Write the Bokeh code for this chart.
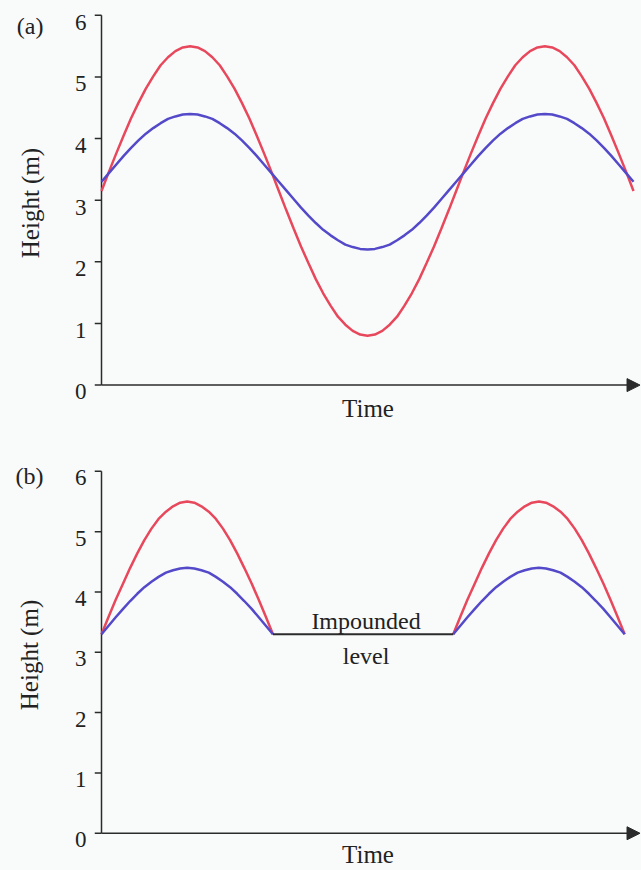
from bokeh.plotting import figure
from bokeh.layouts import column
from bokeh.models import FixedTicker, Arrow, NormalHead, LinearAxis, Range1d
from bokeh.core.properties import value
from bokeh.embed import file_html
from bokeh.resources import INLINE

# Tidal height (m) over time (h), sampled every quarter hour
time_a = [0.0, 0.25, 0.5, 0.75, 1.0, 1.25, 1.5, 1.75, 2.0, 2.25, 2.5, 2.75,
          3.0, 3.25, 3.5, 3.75, 4.0, 4.25, 4.5, 4.75, 5.0, 5.25, 5.5, 5.75,
          6.0, 6.25, 6.5, 6.75, 7.0, 7.25, 7.5, 7.75, 8.0, 8.25, 8.5, 8.75,
          9.0, 9.25, 9.5, 9.75, 10.0, 10.25, 10.5, 10.75, 11.0, 11.25, 11.5, 11.75,
          12.0, 12.25, 12.5, 12.75, 13.0, 13.25, 13.5, 13.75, 14.0, 14.25, 14.5, 14.75,
          15.0, 15.25, 15.5, 15.75, 16.0, 16.25, 16.5, 16.75, 17.0, 17.25, 17.5, 17.75,
          18.0]
outer_a = [3.15, 3.46, 3.76, 4.05, 4.33, 4.58, 4.81, 5.01, 5.19, 5.32, 5.42, 5.48,
           5.50, 5.48, 5.42, 5.32, 5.19, 5.01, 4.81, 4.58, 4.33, 4.05, 3.76, 3.46,
           3.15, 2.84, 2.54, 2.25, 1.98, 1.72, 1.49, 1.29, 1.11, 0.98, 0.88, 0.82,
           0.80, 0.82, 0.88, 0.98, 1.11, 1.29, 1.49, 1.72, 1.98, 2.25, 2.54, 2.84,
           3.15, 3.46, 3.76, 4.05, 4.33, 4.58, 4.81, 5.01, 5.19, 5.32, 5.42, 5.48,
           5.50, 5.48, 5.42, 5.32, 5.19, 5.01, 4.81, 4.58, 4.33, 4.05, 3.76, 3.46,
           3.15]
inner_a = [3.30, 3.44, 3.58, 3.72, 3.85, 3.97, 4.08, 4.17, 4.25, 4.32, 4.36, 4.39,
           4.40, 4.39, 4.36, 4.32, 4.25, 4.17, 4.08, 3.97, 3.85, 3.72, 3.58, 3.44,
           3.30, 3.16, 3.02, 2.88, 2.75, 2.63, 2.52, 2.43, 2.35, 2.28, 2.24, 2.21,
           2.20, 2.21, 2.24, 2.28, 2.35, 2.43, 2.52, 2.63, 2.75, 2.88, 3.02, 3.16,
           3.30, 3.44, 3.58, 3.72, 3.85, 3.97, 4.08, 4.17, 4.25, 4.32, 4.36, 4.39,
           4.40, 4.39, 4.36, 4.32, 4.25, 4.17, 4.08, 3.97, 3.85, 3.72, 3.58, 3.44,
           3.30]

# With impoundment: water held at the impounded level between the high-water arches
time_b1 = [0.0, 0.24, 0.48, 0.73, 0.97, 1.21, 1.45, 1.69, 1.93, 2.18, 2.42, 2.66,
           2.9, 3.14, 3.38, 3.63, 3.87, 4.11, 4.35, 4.59, 4.83, 5.08, 5.32, 5.56, 5.8]
time_b2 = [11.9, 12.14, 12.38, 12.63, 12.87, 13.11, 13.35, 13.59, 13.83, 14.08, 14.32, 14.56,
           14.8, 15.04, 15.28, 15.53, 15.77, 16.01, 16.25, 16.49, 16.73, 16.98, 17.22, 17.46, 17.7]
outer_b = [3.30, 3.59, 3.87, 4.14, 4.40, 4.64, 4.86, 5.05, 5.21, 5.33, 5.42, 5.48,
           5.50, 5.48, 5.42, 5.33, 5.21, 5.05, 4.86, 4.64, 4.40, 4.14, 3.87, 3.59, 3.30]
inner_b = [3.30, 3.44, 3.58, 3.72, 3.85, 3.97, 4.08, 4.17, 4.25, 4.32, 4.36, 4.39,
           4.40, 4.39, 4.36, 4.32, 4.25, 4.17, 4.08, 3.97, 3.85, 3.72, 3.58, 3.44, 3.30]
impounded_level = 3.3
impounded_span = [5.8, 11.9]

y_ticks = [0, 1, 2, 3, 4, 5, 6]
y_axis_span = [0, 6]

RED = "#e8485c"
BLUE = "#5349c9"
INK = "#2b2b2b"
TXT = "#222222"
BG = "#f9fbfb"
SERIF = "Liberation Serif"
X_START = -0.237     # frame edge; tick marks run from here to the axis line at 0
X_END = 18.27
Y_START = -0.12
Y_END = 6.03
LABEL_DROP = 0.11    # tick numbers sit slightly below their tick marks


def base_figure(height, top, bottom, tag, tag_y, time_standoff):
    # the frame reaches a little past the axes so tick marks and arrow head fit inside it
    p = figure(width=641, height=height, output_backend="svg", toolbar_location=None,
               x_range=Range1d(X_START, X_END), y_range=Range1d(Y_START, Y_END),
               min_border_left=94, min_border_right=0,
               min_border_top=top, min_border_bottom=bottom)
    p.background_fill_color = BG
    p.border_fill_color = BG
    p.outline_line_color = None
    p.grid.visible = False

    # tick numbers
    label_pos = [round(t - LABEL_DROP, 2) for t in y_ticks]
    ya = p.yaxis[0]
    ya.ticker = FixedTicker(ticks=label_pos)
    ya.major_label_overrides = {lp: str(t) for lp, t in zip(label_pos, y_ticks)}
    ya.axis_line_color = None
    ya.major_tick_line_color = None
    ya.minor_tick_line_color = None
    ya.major_tick_in = 0
    ya.major_tick_out = 0
    ya.major_label_standoff = 8
    ya.major_label_text_font = SERIF
    ya.major_label_text_font_size = "23px"
    ya.major_label_text_color = TXT

    # outer left axis: panel tag level with the top tick, plus the axis title
    tag_axis = LinearAxis(ticker=FixedTicker(ticks=[tag_y]),
                          major_label_overrides={tag_y: tag},
                          axis_line_color=None, major_tick_line_color=None,
                          minor_tick_line_color=None, major_tick_in=0, major_tick_out=0,
                          major_label_standoff=28, major_label_text_font=SERIF,
                          major_label_text_font_size="24px", major_label_text_color=TXT,
                          axis_label="Height (m)", axis_label_text_font=SERIF,
                          axis_label_text_font_style="normal",
                          axis_label_text_font_size="25px", axis_label_text_color=TXT,
                          axis_label_standoff=-30)
    p.add_layout(tag_axis, "left")

    xa = p.xaxis[0]
    xa.ticker = FixedTicker(ticks=[])
    xa.minor_tick_line_color = None
    xa.major_tick_in = 0
    xa.major_tick_out = 0
    xa.major_label_standoff = 0
    xa.axis_line_color = None
    xa.axis_label = "Time"
    xa.axis_label_text_font = SERIF
    xa.axis_label_text_font_style = "normal"
    xa.axis_label_text_font_size = "25px"
    xa.axis_label_text_color = TXT
    xa.axis_label_standoff = time_standoff

    # vertical axis line from 0 to 6 m with its tick marks
    p.segment(x0=[0], y0=[y_axis_span[0]], x1=[0], y1=[y_axis_span[1]],
              line_color=INK, line_width=1.5)
    p.segment(x0=[X_START] * len(y_ticks), y0=y_ticks, x1=[0] * len(y_ticks), y1=y_ticks,
              line_color=INK, line_width=1.5)
    # horizontal time axis with arrow head
    p.add_layout(Arrow(end=NormalHead(size=13, fill_color=INK, line_color=INK),
                       x_start=0, y_start=0, x_end=X_END - 0.05, y_end=0,
                       line_color=INK, line_width=1.5))
    return p


pa = base_figure(432, 13, 40, "(a)", 5.82, 2)
pa.line(time_a, outer_a, line_color=RED, line_width=2.5)
pa.line(time_a, inner_a, line_color=BLUE, line_width=2.5)

pb = base_figure(438, 37, 27, "(b)", 5.92, 0)
pb.multi_line([time_b1, time_b2], [outer_b, outer_b], line_color=RED, line_width=2.5)
pb.multi_line([time_b1, time_b2], [inner_b, inner_b], line_color=BLUE, line_width=2.5)
pb.line(impounded_span, [impounded_level, impounded_level], line_color=INK, line_width=2)
pb.text(x=[8.95, 8.95], y=[3.52, 2.94], text=["Impounded", "level"],
        text_font=value(SERIF), text_font_size="24px", text_color=TXT,
        text_align="center", text_baseline="middle")

layout = column(pa, pb, spacing=0)
layout.styles = {"background-color": BG}

open("out.html", "w").write(file_html(layout, INLINE))
